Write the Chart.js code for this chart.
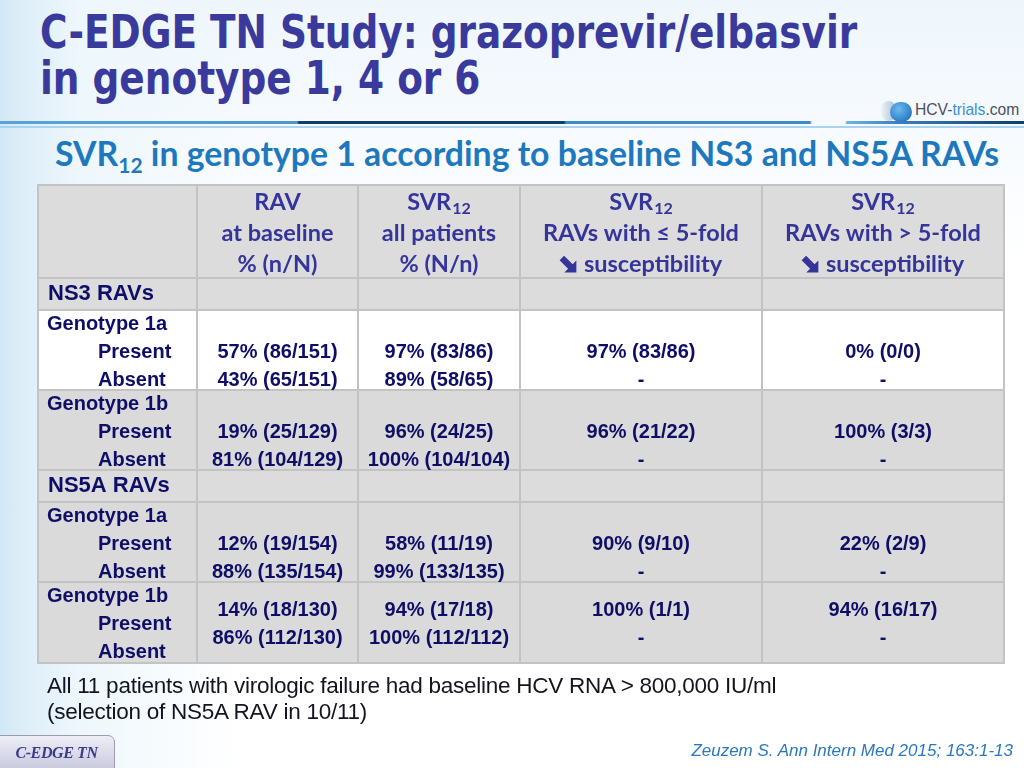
<!DOCTYPE html>
<html>
<head>
<meta charset="utf-8">
<title>C-EDGE TN - SVR12 by baseline RAVs</title>
<script src="https://cdn.jsdelivr.net/npm/chart.js@4.4.1/dist/chart.umd.min.js"></script>
<style>
  html, body { margin: 0; padding: 0; }
  body { width: 1024px; height: 768px; position: relative; overflow: hidden; background: #fff; font-family: "Liberation Sans", Arial, sans-serif; }
  #bg { position: absolute; left: 0; top: 0; width: 1024px; height: 768px;
    background:
      linear-gradient(90deg, #d2e8f6 0px, #dfeff9 30px, #eef7fc 80px, rgba(255,255,255,0) 240px),
      linear-gradient(180deg, #eef6fc 0px, #f6fafe 120px, #ffffff 260px); }
  #title { position: absolute; left: 40px; top: 9px; font-family: "DejaVu Sans Condensed", "DejaVu Sans", sans-serif; font-stretch: condensed;
    font-weight: bold; font-size: 46px; line-height: 46px; color: #3a3a9c; white-space: nowrap;
    transform: scaleX(0.905); transform-origin: 0 0; }
  #rule1 { position: absolute; left: 0; top: 121px; width: 1024px; height: 3px;
    background: linear-gradient(90deg, #5aa3d6 0px, #4b98cf 297px, #0f3e68 299px, #0f3e68 564px, #3d8bc9 566px, #3d8bc9 810px, rgba(255,255,255,0) 812px, rgba(255,255,255,0) 845px, #6fb3e0 847px, #3a7fbf 900px, #0f3e68 1024px); }
  #rule2 { position: absolute; left: 0; top: 126px; width: 1024px; height: 2px; background: #a9d4ef; }
  #logo { position: absolute; left: 880px; top: 98px; width: 144px; height: 26px; }
  #pill1 { position: absolute; left: 1px; top: 3px; width: 15px; height: 20px; border-radius: 8px; background: linear-gradient(90deg, #eef4f9, #a7bfd2); }
  #pill2 { position: absolute; left: 10px; top: 4px; width: 22px; height: 20px; border-radius: 11px; background: radial-gradient(circle at 40% 35%, #6bbaf2, #1464b3); }
  #logotext { position: absolute; left: 35px; top: 2px; font-family: "Liberation Sans", sans-serif; font-size: 17px; color: #4a5060; white-space: nowrap;
    transform: scaleX(0.92); transform-origin: 0 0; }
  #logotext span { color: #3a8fd4; }
  #subtitle { position: absolute; left: 55px; top: 133px; font-family: Lato, "Open Sans", sans-serif; font-weight: bold; font-size: 33.8px; line-height: 40px; color: #1d78bd; white-space: nowrap; }
  #subtitle sub { font-size: 21px; vertical-align: -7px; line-height: 0; }
  #table { position: absolute; left: 0; top: 0; }
  #note { position: absolute; left: 47px; top: 673px; font-family: "Liberation Sans Narrow", "Liberation Sans", sans-serif; font-size: 22.5px; line-height: 26px; color: #141420; white-space: nowrap; letter-spacing: -0.25px; }
  #tag { position: absolute; left: -2px; top: 735px; width: 117px; height: 34px; border: 1px solid #9c9cad; border-radius: 0 7px 0 0; box-sizing: border-box;
    background: linear-gradient(180deg, #eeeef6, #cacade); font-family: "Liberation Serif", "DejaVu Serif", serif; font-style: italic; font-weight: bold; font-size: 16px; line-height: 34px; text-align: center; color: #3a3a8e; letter-spacing: -0.4px; }
  #cite { position: absolute; right: 11px; top: 741px; font-family: "Liberation Sans Narrow", "Liberation Sans", sans-serif; font-style: italic; font-size: 17px; color: #2a78bf; white-space: nowrap; }
</style>
</head>
<body>
<div id="bg"></div>
<div id="title">C-EDGE TN Study: grazoprevir/elbasvir<br>in genotype 1, 4 or 6</div>
<div id="rule1"></div>
<div id="rule2"></div>
<div id="logo"><div id="pill1"></div><div id="pill2"></div><div id="logotext">HCV-<span>trials</span>.com</div></div>
<div id="subtitle">SVR<sub>12</sub> in genotype 1 according to baseline NS3 and NS5A RAVs</div>
<canvas id="table" width="1024" height="768"></canvas>
<div id="note">All 11 patients with virologic failure had baseline HCV RNA &gt; 800,000 IU/ml<br>(selection of NS5A RAV in 10/11)</div>
<div id="tag">C-EDGE TN</div>
<div id="cite">Zeuzem S. Ann Intern Med 2015; 163:1-13</div>

<script>
// Data
var columnHeaders = [
  [],
  ["RAV", "at baseline", "% (n/N)"],
  ["SVR_12", "all patients", "% (N/n)"],
  ["SVR_12", "RAVs with \u2264 5-fold", "\u2798 susceptibility"],
  ["SVR_12", "RAVs with > 5-fold", "\u2798 susceptibility"],
];
var sections = ["NS3 RAVs", "NS5A RAVs"];
var genotypes = ["Genotype 1a", "Genotype 1b", "Genotype 1a", "Genotype 1b"];
var ravStatus = ["Present", "Absent"];
var ravAtBaseline = ["57% (86/151)", "43% (65/151)", "19% (25/129)", "81% (104/129)",
  "12% (19/154)", "88% (135/154)", "14% (18/130)", "86% (112/130)"];
var svrAllPatients = ["97% (83/86)", "89% (58/65)", "96% (24/25)", "100% (104/104)",
  "58% (11/19)", "99% (133/135)", "94% (17/18)", "100% (112/112)"];
var svrLowFold = ["97% (83/86)", "-", "96% (21/22)", "-", "90% (9/10)", "-", "100% (1/1)", "-"];
var svrHighFold = ["0% (0/0)", "-", "100% (3/3)", "-", "22% (2/9)", "-", "94% (16/17)", "-"];

// Layout (table units = pixels of the table)
var colWidths = [159, 161, 162, 242, 242];
var rowHeights = [93, 32, 80, 80, 32, 80, 81];
var headFont = "bold 23.5px Lato, 'DejaVu Sans'";
var headSubFont = "bold 16px Lato";
var bodyFont = "bold 20px 'Liberation Sans', Arial";
var sectionFont = "bold 22px 'Liberation Sans', Arial";
var headColor = "#34349a";
var bodyColor = "#0e0e68";

function cumulative(list) {
  var out = [0];
  list.forEach(function (v) { out.push(out[out.length - 1] + v); });
  return out;
}
var colEdges = cumulative(colWidths);
var rowEdges = cumulative(rowHeights);

// rows of the table body, built from the data arrays
var bodyRows = [];
sections.forEach(function (section, s) {
  bodyRows.push({ kind: "section", label: section });
  [0, 1].forEach(function (g) {
    var gi = s * 2 + g;
    bodyRows.push({ kind: "block", genotype: genotypes[gi], index: gi, fill: gi === 0 ? "#ffffff" : "#dadada",
      valueLines: gi === 3 ? [0.5, 1.5] : [1, 2] });
  });
});
var valueColumns = [ravAtBaseline, svrAllPatients, svrLowFold, svrHighFold];

// heavy south-east arrow (the slide uses a Wingdings glyph)
function drawArrow(ctx, x, cy) {
  ctx.save();
  ctx.translate(x + 9, cy);
  ctx.rotate(Math.PI / 4);
  ctx.beginPath();
  ctx.moveTo(-10, -3.2);
  ctx.lineTo(2, -3.2);
  ctx.lineTo(2, -8.5);
  ctx.lineTo(10.5, 0);
  ctx.lineTo(2, 8.5);
  ctx.lineTo(2, 3.2);
  ctx.lineTo(-10, 3.2);
  ctx.closePath();
  ctx.fill();
  ctx.restore();
}

function drawHeaderLine(ctx, text, cx, cy) {
  var arrow = text.charAt(0) === "\u2798";
  if (arrow) text = text.slice(2);
  var parts = text.split("_");
  var aw = arrow ? 24 : 0;
  ctx.font = headFont;
  var w1 = ctx.measureText(parts[0]).width;
  var w2 = 0;
  if (parts[1]) { ctx.font = headSubFont; w2 = ctx.measureText(parts[1]).width + 1; }
  var x0 = cx - (aw + w1 + w2) / 2;
  if (arrow) drawArrow(ctx, x0, cy + 1);
  x0 += aw;
  ctx.textAlign = "left";
  ctx.font = headFont;
  ctx.fillText(parts[0], x0, cy);
  if (parts[1]) { ctx.font = headSubFont; ctx.fillText(parts[1], x0 + w1 + 1, cy + 7); }
}

var tablePlugin = {
  id: "tableCells",
  beforeDatasetsDraw: function (chart) {
    var ctx = chart.ctx, x = chart.scales.x, y = chart.scales.y;
    var px = function (v) { return x.getPixelForValue(v); };
    var py = function (v) { return y.getPixelForValue(v); };
    ctx.save();
    // cell fills
    ctx.fillStyle = "#dcdcdc";
    ctx.fillRect(px(0), py(0), px(colEdges[5]) - px(0), py(rowEdges[7]) - py(0));
    var r = 1;
    bodyRows.forEach(function (row) {
      if (row.kind === "block") {
        ctx.fillStyle = row.fill;
        ctx.fillRect(px(0), py(rowEdges[r]), px(colEdges[5]) - px(0), py(rowEdges[r + 1]) - py(rowEdges[r]));
      }
      r++;
    });
    // grid
    ctx.strokeStyle = "#c3c3c3";
    ctx.lineWidth = 2;
    ctx.beginPath();
    rowEdges.forEach(function (v) { ctx.moveTo(px(0) - 1, py(v)); ctx.lineTo(px(colEdges[5]) + 1, py(v)); });
    colEdges.forEach(function (v) { ctx.moveTo(px(v), py(0)); ctx.lineTo(px(v), py(rowEdges[7])); });
    ctx.stroke();
    // header
    ctx.fillStyle = headColor;
    ctx.textBaseline = "middle";
    columnHeaders.forEach(function (lines, c) {
      var cx = px((colEdges[c] + colEdges[c + 1]) / 2);
      lines.forEach(function (t, i) { drawHeaderLine(ctx, t, cx, py(17 + i * 31)); });
    });
    // body
    ctx.fillStyle = bodyColor;
    r = 1;
    bodyRows.forEach(function (row) {
      var top = rowEdges[r];
      if (row.kind === "section") {
        ctx.font = sectionFont;
        ctx.textAlign = "left";
        ctx.fillText(row.label, px(10), py(top + 16));
      } else {
        ctx.font = bodyFont;
        ctx.textAlign = "left";
        ctx.fillText(row.genotype, px(9), py(top + 14));
        ravStatus.forEach(function (st, k) { ctx.fillText(st, px(60), py(top + 14 + (k + 1) * 28)); });
        ctx.textAlign = "center";
        valueColumns.forEach(function (col, c) {
          var cx = px((colEdges[c + 1] + colEdges[c + 2]) / 2);
          [0, 1].forEach(function (k) {
            ctx.fillText(col[row.index * 2 + k], cx, py(top + 14 + row.valueLines[k] * 28));
          });
        });
      }
      r++;
    });
    ctx.restore();
  },
};

var chart = new Chart(document.getElementById("table").getContext("2d"), {
  type: "scatter",
  data: { datasets: [] },
  options: {
    responsive: false,
    animation: false,
    layout: { padding: { left: 38, right: 20, top: 185, bottom: 105 } },
    plugins: { legend: { display: false }, tooltip: { enabled: false } },
    scales: {
      x: { type: "linear", min: 0, max: colEdges[5], display: false },
      y: { type: "linear", min: 0, max: rowEdges[7], reverse: true, display: false },
    },
  },
  plugins: [tablePlugin],
});
</script>
</body>
</html>
